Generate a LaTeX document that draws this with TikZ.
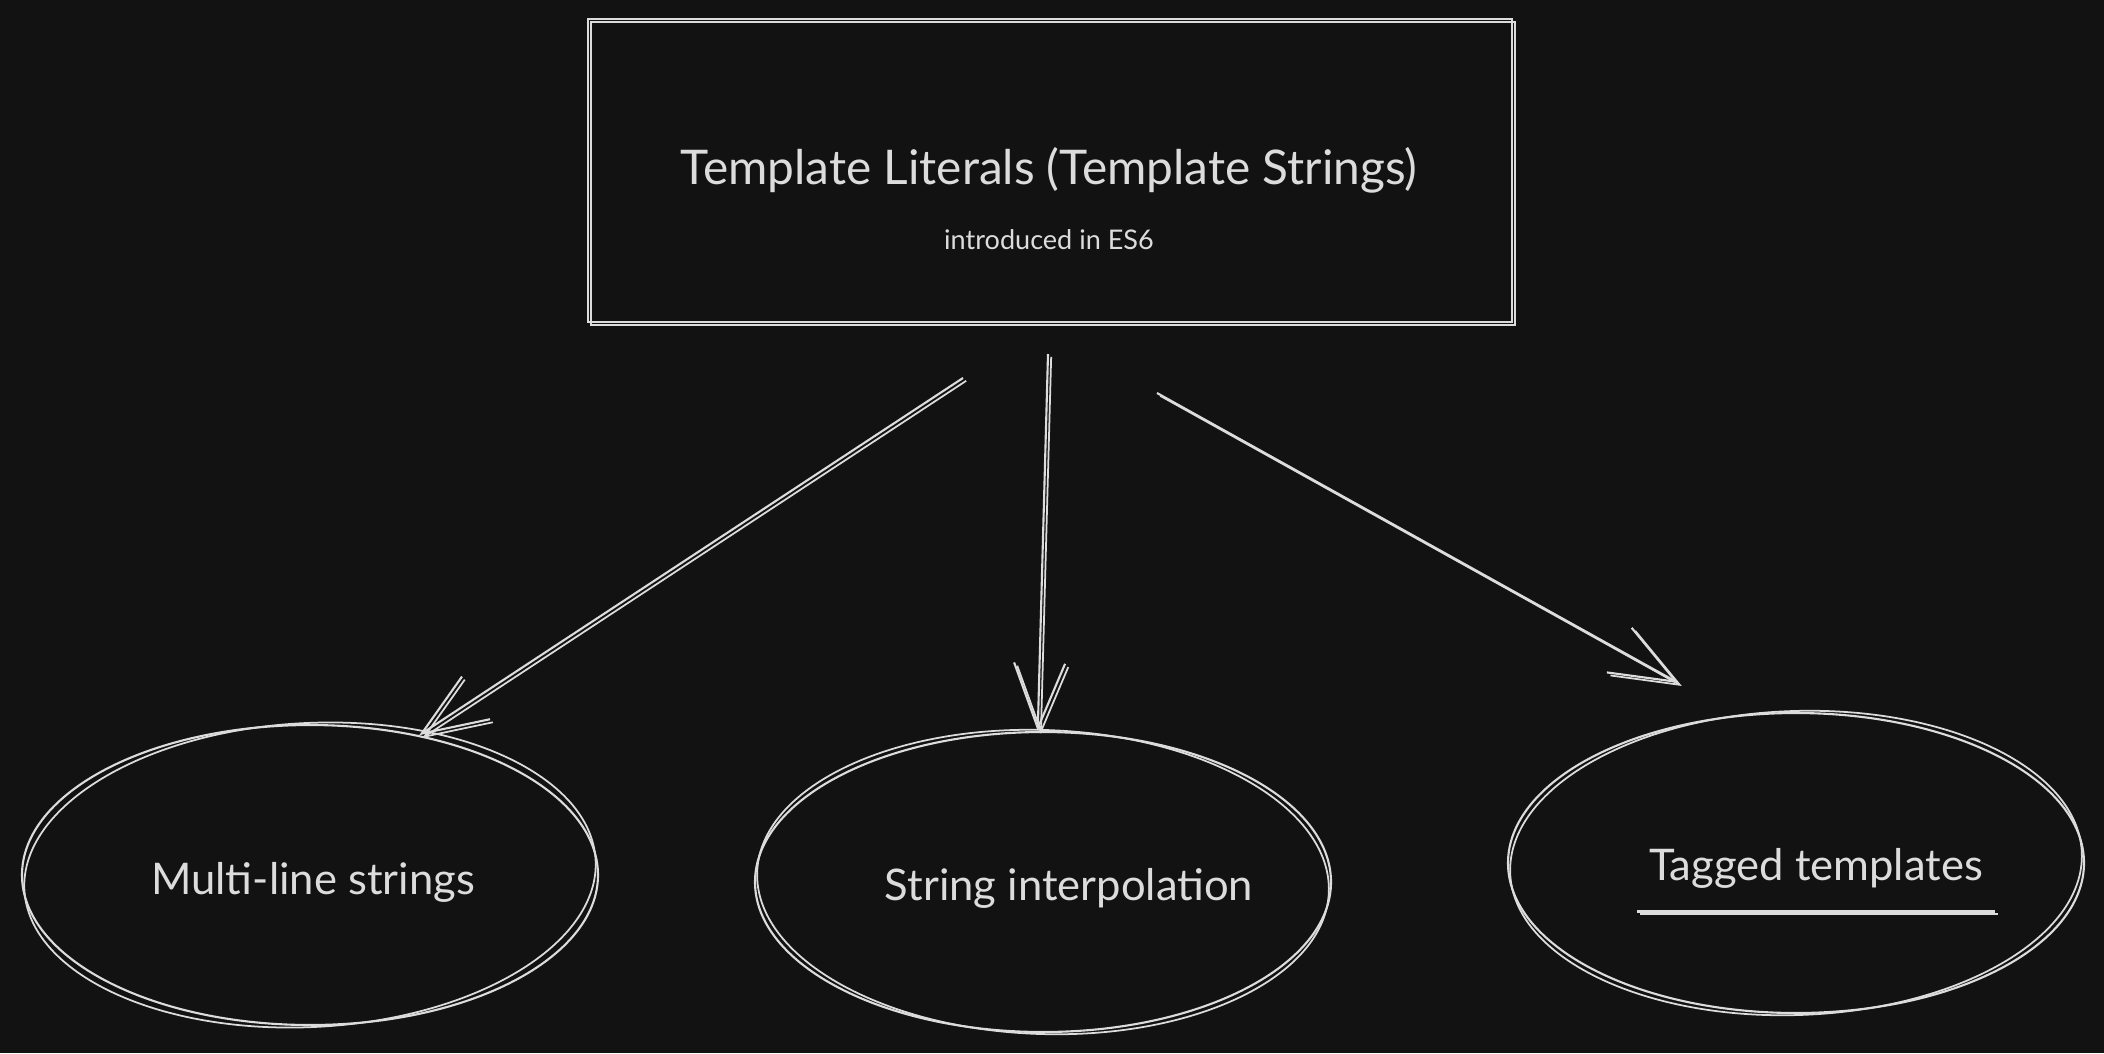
\documentclass[tikz,border=0pt]{standalone}
\usepackage{fontspec}
\setmainfont{Lato}
\usetikzlibrary{positioning,shapes.geometric,arrows.meta}
\definecolor{bg}{HTML}{121212}
\definecolor{ink}{HTML}{DCDCDC}

\begin{document}
\begin{tikzpicture}[
    every node/.style={text=ink},
    sketch/.style={draw=ink, line width=0.6pt,
      postaction={draw=ink, line width=0.5pt, transform canvas={shift={(0.9pt,-0.8pt)}}}},
    topic/.style={sketch, rectangle, minimum width=9.24cm, minimum height=3.03cm},
    idea/.style={draw=ink, line width=0.6pt, ellipse, minimum width=5.76cm, minimum height=3.0cm, inner sep=0pt},
    big/.style={font=\fontsize{13.6}{16}\selectfont},
    mid/.style={font=\fontsize{12.4}{15}\selectfont},
    small/.style={font=\fontsize{7.7}{9}\selectfont},
    link/.style={sketch, -{Straight Barb[length=6.5mm,width=5.1mm]}}
  ]
  % background and page size
  \fill[bg] (0,0) rectangle (21.04,-10.53);
  \useasboundingbox (0,0) rectangle (21.04,-10.53);

  % top box
  \node[topic] (box) at (10.50,-1.705) {};
  \node[big] (title) at (10.49,-1.70) {Template Literals (Template Strings)};
  \node[small, below=0.12cm of title] (sub) {introduced in ES6};

  % the three uses
  \node[idea] (multi) at (3.10,-8.75) {};
  \node[idea] (interp) at (10.43,-8.82) {};
  \node[idea] (tag) at (17.96,-8.63) {};
  \foreach \n/\a in {multi/3,interp/-2,tag/2}
    \draw[ink, line width=0.5pt] (\n.center) ellipse [x radius=2.86cm, y radius=1.52cm, rotate=\a];

  \node[mid] (multitext) at (3.13,-8.82) {Multi-line strings};
  \node[mid] (interptext) at (10.69,-8.88) {String interpolation};
  \node[mid] (tagtext) at (18.16,-8.68) {Tagged templates};
  \draw[sketch] ([yshift=-0.11cm]tagtext.south west) -- ([yshift=-0.11cm]tagtext.south east);

  % arrows
  \coordinate (s1) at (9.63,-3.78);
  \coordinate (s2) at (10.48,-3.54);
  \coordinate (s3) at (11.57,-3.93);
  \draw[link] (s1) -- (multi.52);
  \draw[link] (s2) -- (interp.92);
  \draw[link, shorten >=0.66cm] (s3) -- (tag.112);
\end{tikzpicture}
\end{document}
